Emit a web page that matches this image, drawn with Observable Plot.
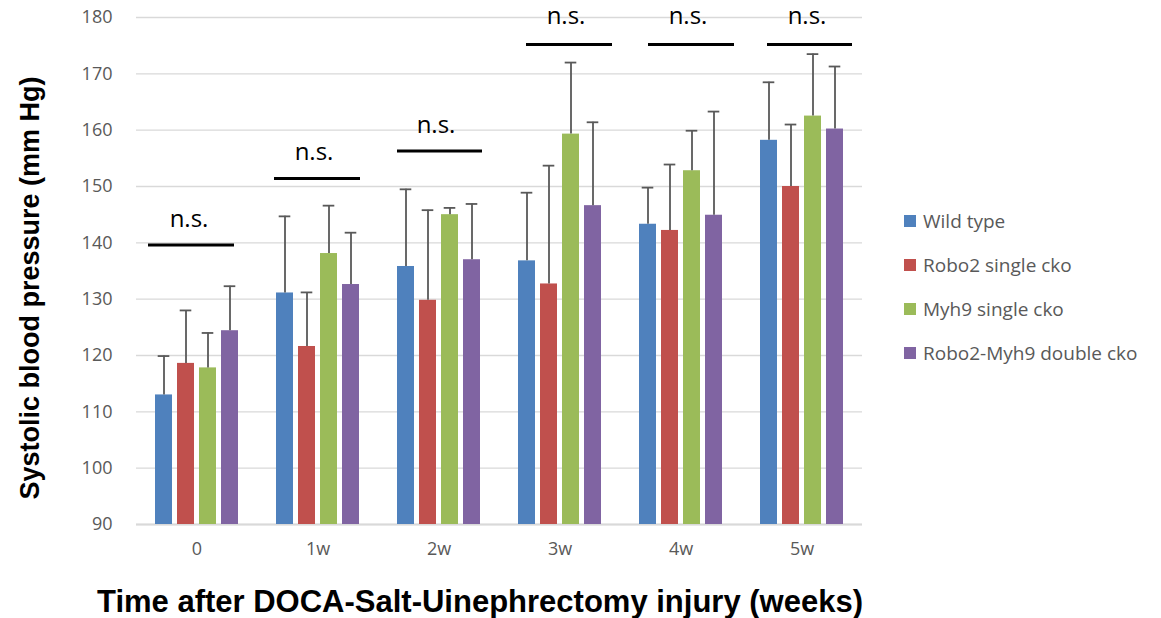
<!DOCTYPE html>
<html>
<head>
<meta charset="utf-8">
<script src="https://cdn.jsdelivr.net/npm/d3@7"></script>
<script src="https://cdn.jsdelivr.net/npm/@observablehq/plot@0.6"></script>
<style>
  body { margin: 0; background: #fff; }
  #wrap { position: relative; width: 1161px; height: 618px; }
  #legend { position: absolute; left: 904px; top: 199px; font-family: "Open Sans", sans-serif; font-size: 19px; color: #595959; }
  #legend .row { display: flex; align-items: center; height: 44px; white-space: nowrap; }
  #legend .sw { width: 12px; height: 12px; margin-right: 7px; }
</style>
</head>
<body>
<div id="wrap"><div id="legend"></div></div>
<script>
const groups = ["0", "1w", "2w", "3w", "4w", "5w"];
const series = ["Wild type", "Robo2 single cko", "Myh9 single cko", "Robo2-Myh9 double cko"];
const colors = ["#4F81BD", "#C0504D", "#9BBB59", "#8064A2"];

const wildType = [113.0, 131.1, 135.8, 136.8, 143.3, 158.2];
const wildTypeErr = [6.9, 13.6, 13.7, 12.1, 6.5, 10.3];
const robo2 = [118.6, 121.6, 129.8, 132.7, 142.2, 150.0];
const robo2Err = [9.4, 9.6, 16.0, 21.0, 11.7, 11.0];
const myh9 = [117.8, 138.1, 145.0, 159.3, 152.8, 162.5];
const myh9Err = [6.2, 8.5, 1.2, 12.7, 7.1, 11.0];
const doubleCko = [124.4, 132.6, 137.0, 146.6, 144.9, 160.2];
const doubleCkoErr = [7.9, 9.2, 9.9, 14.8, 18.4, 11.1];

const nsLevel = [139.6, 151.4, 156.3, 175.2, 175.2, 175.2];
const nsLabel = ["n.s.", "n.s.", "n.s.", "n.s.", "n.s.", "n.s."];
const yTicks = [90, 100, 110, 120, 130, 140, 150, 160, 170, 180];

// build table
const means = [wildType, robo2, myh9, doubleCko];
const errs = [wildTypeErr, robo2Err, myh9Err, doubleCkoErr];
const rows = [];
groups.forEach((g, gi) => series.forEach((s, si) => rows.push({group: g, series: s, value: means[si][gi], upper: means[si][gi] + errs[si][gi]})));
const ns = groups.map((g, gi) => ({group: g, y: nsLevel[gi], label: nsLabel[gi]}));

// per-group styling offsets for the hand-placed significance annotations
const lineInsetL = [12, 17, 19, 27, 28, 26];
const lineInsetR = [23, 18, 17, 8, 7, 10];
const textDx = [-8, -4, -3, 6, 7, 5];
const textDy = [-26, -26, -26, -28, -28, -28];

const nsMarks = [];
groups.forEach((g, gi) => {
  const d = ns.filter(r => r.group === g);
  nsMarks.push(Plot.ruleY(d, {fx: "group", y: "y", stroke: "#000", strokeWidth: 3, insetLeft: lineInsetL[gi], insetRight: lineInsetR[gi]}));
  nsMarks.push(Plot.text(d, {fx: "group", y: "y", text: "label", dx: textDx[gi], dy: textDy[gi], fill: "#000", fontSize: 24, fontFamily: "Open Sans", lineAnchor: "middle"}));
});

const chart = Plot.plot({
  width: 1161,
  height: 618,
  marginLeft: 135,
  marginRight: 299,
  marginTop: 17,
  marginBottom: 94,
  style: {fontFamily: "Open Sans, sans-serif", fontSize: "18px", color: "#595959", background: "#fff", overflow: "visible"},
  fx: {domain: groups, padding: 0, label: null},
  x: {domain: series, paddingInner: 0.217, paddingOuter: 0.85, axis: null},
  y: {domain: [90, 180], ticks: yTicks, label: null},
  color: {domain: series, range: colors},
  marks: [
    Plot.gridY(yTicks, {stroke: "#D9D9D9", strokeOpacity: 1, strokeWidth: 1.3}),
    Plot.ruleY([90], {stroke: "#D9D9D9", strokeWidth: 2.2}),
    Plot.barY(rows, {fx: "group", x: "series", y1: 90, y2: "value", fill: "series"}),
    Plot.ruleX(rows, {fx: "group", x: "series", y1: "value", y2: "upper", stroke: "#595959", strokeWidth: 1.8}),
    Plot.tickY(rows, {fx: "group", x: "series", y: "upper", stroke: "#595959", strokeWidth: 1.8, insetLeft: 2.7, insetRight: 2.7}),
    Plot.axisY(yTicks, {tickSize: 0, tickPadding: 24, label: null, fill: "#595959"}),
    Plot.axisFx({anchor: "bottom", tickSize: 0, tickPadding: 18, label: null, fill: "#595959"}),
    ...nsMarks
  ]
});

const svg = d3.select(chart);
svg.append("text")
  .attr("x", 480).attr("y", 612)
  .attr("text-anchor", "middle")
  .style("font-family", "Liberation Sans, Arial, sans-serif")
  .style("font-weight", "bold").style("font-size", "31px").style("fill", "#000")
  .text("Time after DOCA-Salt-Uinephrectomy injury (weeks)");
svg.append("text")
  .attr("transform", "translate(39,288) rotate(-90)")
  .attr("text-anchor", "middle")
  .style("font-family", "Liberation Sans, Arial, sans-serif")
  .style("font-weight", "bold").style("font-size", "27px").style("fill", "#000")
  .text("Systolic blood pressure (mm Hg)");

const wrap = document.getElementById("wrap");
wrap.insertBefore(chart, wrap.firstChild);

const legend = d3.select("#legend");
series.forEach((s, i) => {
  const row = legend.append("div").attr("class", "row");
  row.append("div").attr("class", "sw").style("background", colors[i]);
  row.append("span").text(s);
});
</script>
</body>
</html>
